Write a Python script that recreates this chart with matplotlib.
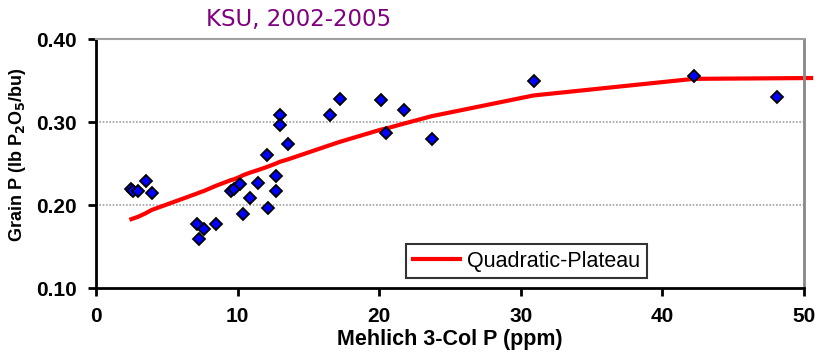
import matplotlib
matplotlib.use("Agg")
import matplotlib.pyplot as plt

# Mehlich 3-Col soil test P (ppm) vs grain P concentration
soil_p = [2.5, 2.6, 2.95, 3.5, 3.93, 7.16, 7.3, 7.63, 8.45, 9.53, 9.75, 10.17,
          10.4, 10.88, 11.42, 12.1, 12.12, 12.71, 12.71, 12.97, 12.97, 13.56,
          16.5, 17.2, 20.15, 20.46, 21.73, 23.7, 30.9, 42.2, 48.1]
grain_p = [0.219, 0.217, 0.217, 0.229, 0.215, 0.177, 0.159, 0.171, 0.177, 0.217,
           0.219, 0.225, 0.189, 0.208, 0.227, 0.260, 0.196, 0.235, 0.217, 0.309,
           0.296, 0.273, 0.309, 0.328, 0.326, 0.287, 0.314, 0.280, 0.350, 0.355,
           0.330]

# fitted quadratic-plateau values
fit_x = [2.5, 3.0, 3.5, 3.93, 7.16, 7.3, 7.63, 8.45, 9.53, 9.75, 10.17, 10.4,
         10.88, 11.42, 12.1, 12.71, 12.97, 13.56, 16.5, 17.2, 20.15, 20.46,
         21.73, 23.7, 30.9, 42.2, 50.5]
fit_y = [0.183, 0.186, 0.190, 0.194, 0.214, 0.215, 0.217, 0.223, 0.230, 0.231,
         0.234, 0.236, 0.239, 0.242, 0.246, 0.250, 0.252, 0.255, 0.272, 0.276,
         0.291, 0.292, 0.298, 0.307, 0.332, 0.352, 0.353]

xticks = [0, 10, 20, 30, 40, 50]
yticks = [0.10, 0.20, 0.30, 0.40]

plt.rcParams['font.family'] = ['Liberation Sans', 'DejaVu Sans']

fig = plt.figure(figsize=(8.19, 3.56), dpi=100)
ax = fig.add_axes([0.1172, 0.191, 0.8645, 0.6994])

for y in yticks[1:]:
    ax.axhline(y, color='#a0a0a0', linestyle=(0, (1, 1)), linewidth=1.2, zorder=1)

ax.plot(fit_x, fit_y, color='#ff0000', linewidth=3.0, clip_on=False,
        zorder=2, label='Quadratic-Plateau')
ax.plot(soil_p, grain_p, linestyle='none', marker='D', markersize=6.4,
        markerfacecolor='#0000ff', markeredgecolor='black',
        markeredgewidth=1.3, clip_on=False, zorder=3)

ax.set_xlim(0, 50)
ax.set_ylim(0.10, 0.40)
ax.set_xticks(xticks)
ax.set_yticks(yticks)
ax.set_yticklabels(['%.2f' % v for v in yticks])
ax.tick_params(axis='both', direction='out', length=6, width=2,
               labelsize=15, color='black')
ax.tick_params(axis='x', pad=8)
ax.tick_params(axis='y', pad=8)
for lab in ax.get_xticklabels() + ax.get_yticklabels():
    lab.set_fontweight('bold')

ax.spines['left'].set_linewidth(2)
ax.spines['bottom'].set_linewidth(2)
ax.spines['top'].set_color('#a0a0a0')
ax.spines['top'].set_linewidth(1.5)
ax.spines['right'].set_color('#888888')
ax.spines['right'].set_linewidth(2)

fig.text(0.5495, 0.045, 'Mehlich 3-Col P (ppm)', ha='center', va='center',
         fontsize=15.5, fontweight='bold')
fig.text(0.0215, 0.565, 'Grain P (lb P$_\\mathbf{2}$O$_\\mathbf{5}$/bu)',
         rotation=90, ha='center', va='center', fontsize=13, fontweight='bold')
fig.text(0.364, 0.944, 'KSU, 2002-2005', ha='center', va='center',
         fontsize=16.5, color='#800080', family='DejaVu Sans')

leg = ax.legend(loc='lower left', bbox_to_anchor=(0.438, 0.04),
                fontsize=15.5, frameon=True, fancybox=False, handlelength=2.2,
                handletextpad=0.35, borderpad=0.3, borderaxespad=0)
leg.get_frame().set_edgecolor('black')
leg.get_frame().set_linewidth(1.5)

fig.savefig('out.png', dpi=100)
